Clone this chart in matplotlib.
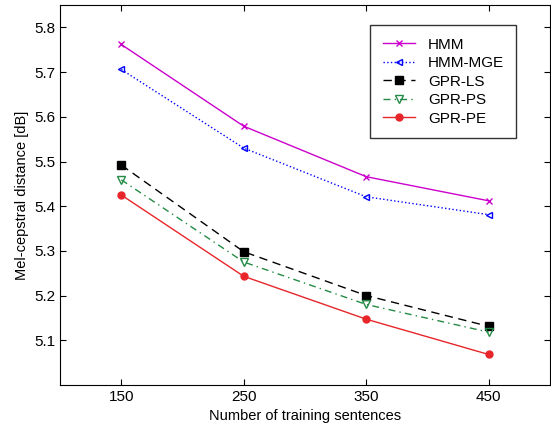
import matplotlib
matplotlib.use("Agg")
import matplotlib.pyplot as plt

plt.rcParams["font.family"] = ["Liberation Sans", "DejaVu Sans"]

SENTENCES = [150, 250, 350, 450]

HMM = [5.762, 5.579, 5.466, 5.412]
HMM_MGE = [5.706, 5.530, 5.421, 5.381]
GPR_LS = [5.492, 5.298, 5.200, 5.131]
GPR_PS = [5.459, 5.275, 5.180, 5.118]
GPR_PE = [5.425, 5.243, 5.147, 5.068]


def main():
    fig = plt.figure(figsize=(5.51, 4.30), dpi=100)
    ax = fig.add_axes([0.109, 0.105, 0.889, 0.883])

    ax.plot(SENTENCES, HMM, color="#cc00cc", linestyle="-", linewidth=1,
            marker="x", markersize=5, label="HMM")
    ax.plot(SENTENCES, HMM_MGE, color="#0000ff", linestyle=":", linewidth=1,
            marker="<", markersize=5, markerfacecolor="none", label="HMM-MGE")
    ax.plot(SENTENCES, GPR_LS, color="black", linestyle=(0, (6, 4)), linewidth=1,
            marker="s", markersize=6, label="GPR-LS")
    ax.plot(SENTENCES, GPR_PS, color="#238b45", linestyle=(0, (5, 3, 1, 3)), linewidth=1,
            marker="v", markersize=6, markerfacecolor="none", label="GPR-PS")
    ax.plot(SENTENCES, GPR_PE, color="#e8262a", linestyle="-", linewidth=1,
            marker="o", markersize=5, label="GPR-PE")

    ax.set_xlim(100, 500)
    ax.set_ylim(5.0, 5.85)
    ax.set_xticks(SENTENCES)
    ax.set_yticks([5.1, 5.2, 5.3, 5.4, 5.5, 5.6, 5.7, 5.8])
    ax.tick_params(direction="in", top=True, right=True, labelsize=11, length=4)

    ax.set_xlabel("Number of training sentences", fontsize=10.5)
    ax.set_ylabel("Mel-cepstral distance [dB]", fontsize=10.5)

    ax.legend(loc="upper right", bbox_to_anchor=(0.931, 0.947), borderaxespad=0,
              fontsize=11, frameon=True, fancybox=False, edgecolor="black",
              handlelength=2.1, handletextpad=0.85, borderpad=0.8,
              labelspacing=0.3)

    fig.savefig("out.png", dpi=100)
    plt.close(fig)


if __name__ == "__main__":
    main()
